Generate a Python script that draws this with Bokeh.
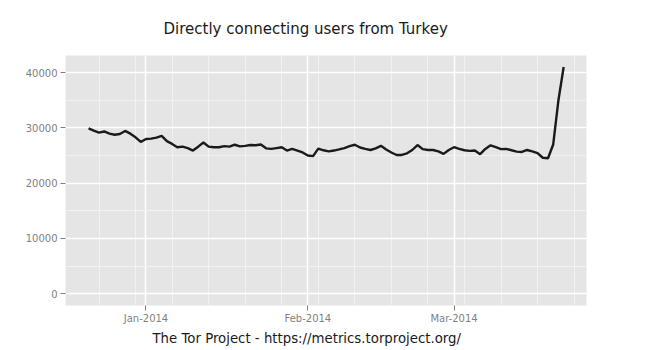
import pandas as pd
from bokeh.plotting import figure
from bokeh.models import Range1d, FixedTicker, Title, DatetimeTickFormatter, NumeralTickFormatter, ColumnDataSource
from bokeh.embed import file_html
from bokeh.resources import INLINE

title_text = "Directly connecting users from Turkey"
caption_text = "The Tor Project - https://metrics.torproject.org/"

start_date = "2013-12-21"
users = [
    29900, 29500, 29150, 29350, 28950, 28750, 28900, 29450, 28950, 28300, 27450,
    28000, 28050, 28250, 28550, 27600, 27100, 26500, 26600, 26350, 25900, 26600,
    27350, 26600, 26500, 26500, 26700, 26600, 26950, 26650, 26750, 26900, 26850,
    27000, 26300, 26200, 26350, 26500, 25900, 26200, 25900, 25550, 25000, 24900,
    26250, 25950, 25750, 25900, 26100, 26350, 26700, 26950, 26450, 26200, 26000,
    26300, 26750, 26100, 25550, 25100, 25100, 25400, 26000, 26900, 26150, 26000,
    26000, 25750, 25300, 26000, 26500, 26200, 25950, 25850, 25900, 25250, 26200,
    26850, 26500, 26150, 26200, 25950, 25700, 25650, 26000, 25750, 25450, 24600,
    24500, 27000, 35000, 41000,
]
dates = pd.date_range(start_date, periods=len(users), freq="D")

x_tick_dates = ["2014-01-01", "2014-02-01", "2014-03-01"]
y_ticks = [0, 10000, 20000, 30000, 40000]
y_minor = [5000, 15000, 25000, 35000]
x_start, x_end = "2013-12-16 14:00", "2014-03-26 09:00"
y_start, y_end = -2115, 43085

def ms(d):
    return pd.Timestamp(d).value / 1e6

x_major = [ms(d) for d in x_tick_dates]
x_minor = [ms(d) for d in pd.date_range("2013-12-16", "2014-03-31", freq="W-MON")]

src = ColumnDataSource(dict(date=dates, users=users))

p = figure(width=650, height=350, x_axis_type="datetime", output_backend="svg",
           toolbar_location=None,
           x_range=Range1d(ms(x_start), ms(x_end)), y_range=Range1d(y_start, y_end),
           min_border_left=65, min_border_right=64, min_border_top=55, min_border_bottom=45)

p.background_fill_color = "#E5E5E5"
p.border_fill_color = "white"
p.outline_line_color = None

p.line("date", "users", source=src, line_color="#1a1a1a", line_width=2.4)

p.xaxis.ticker = FixedTicker(ticks=x_major, minor_ticks=x_minor)
p.yaxis.ticker = FixedTicker(ticks=y_ticks, minor_ticks=y_minor)
p.xaxis.formatter = DatetimeTickFormatter(days="%b-%Y", months="%b-%Y", years="%b-%Y")
p.yaxis.formatter = NumeralTickFormatter(format="0")

for ax in (p.xaxis, p.yaxis):
    ax.axis_line_color = None
    ax.major_tick_line_color = "#7f7f7f"
    ax.major_tick_in = 0
    ax.major_tick_out = 5
    ax.minor_tick_line_color = None
    ax.major_label_text_color = "#7f7f7f"
    ax.major_label_text_font = "DejaVu Sans"
    ax.major_label_text_font_size = "10px"
    ax.major_label_standoff = 3
p.xaxis.major_label_standoff = 2

for g in (p.xgrid, p.ygrid):
    g.grid_line_color = "white"
    g.grid_line_width = 1.5
    g.minor_grid_line_color = "#F2F2F2"
    g.minor_grid_line_width = 1
p.xgrid.ticker = p.xaxis.ticker
p.ygrid.ticker = p.yaxis.ticker

p.title.text = title_text
p.title.align = "left"
p.title.offset = 98
p.title.text_font = "DejaVu Sans"
p.title.text_font_size = "15px"
p.title.text_font_style = "normal"
p.title.text_color = "#1a1a1a"
p.title.standoff = 35

cap = Title(text=caption_text, align="left", offset=87, text_font="DejaVu Sans",
            text_font_size="13.3px", text_font_style="normal", text_color="#1a1a1a",
            standoff=5)
p.add_layout(cap, "below")

open("out.html", "w").write(file_html(p, INLINE))
